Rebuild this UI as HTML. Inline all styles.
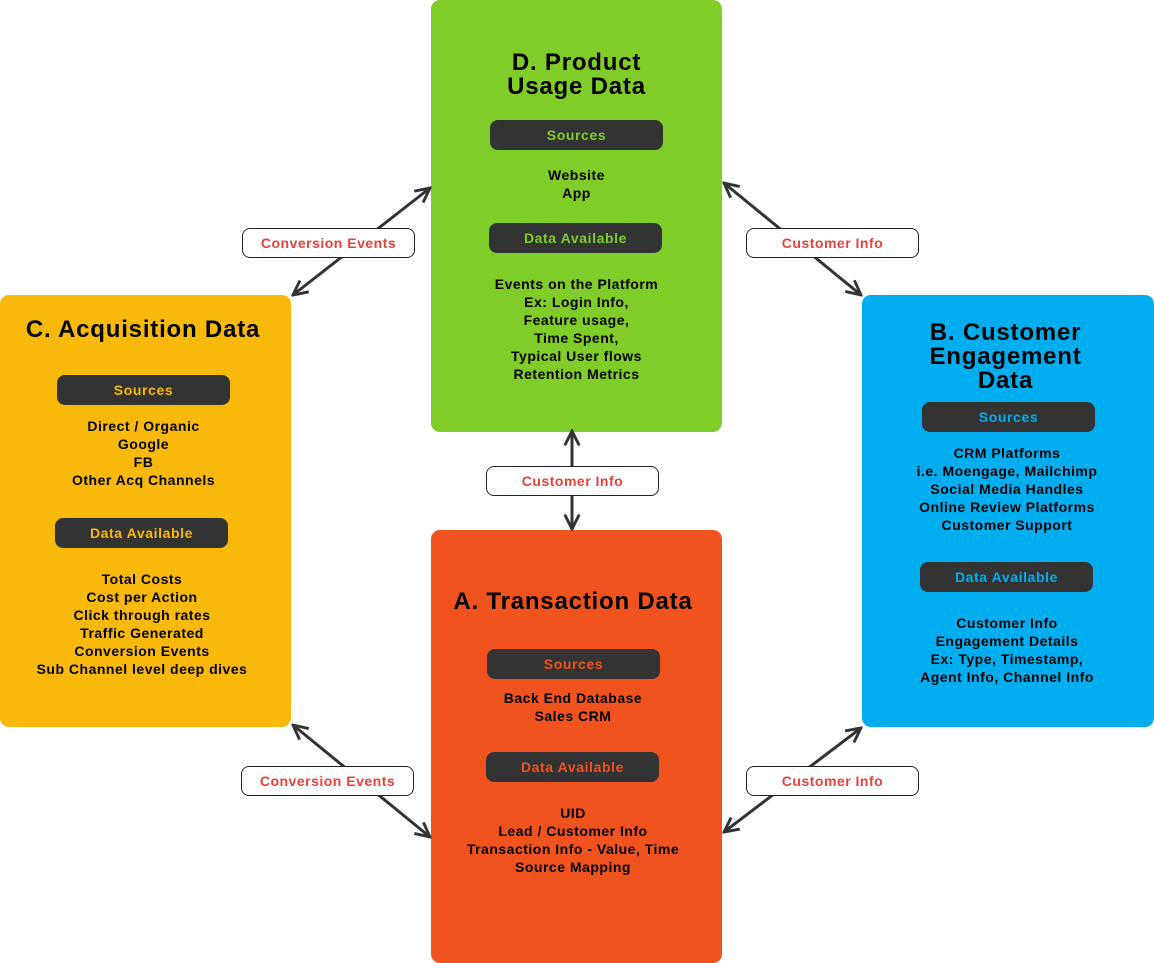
<!DOCTYPE html>
<html><head><meta charset="utf-8"><style>
body{margin:0;width:1154px;height:963px;background:#fff;position:relative;overflow:hidden;font-family:"Liberation Sans",sans-serif;font-weight:bold}
.box{position:absolute;border-radius:9px;width:291px;height:432px}
.t{position:absolute;left:0;right:0;text-align:center;color:#000}
.title{font-size:24px;line-height:24px;letter-spacing:0.8px}
.pill{position:absolute;background:#333;border-radius:8px;width:173px;height:30px;line-height:30px;text-align:center;font-size:14px;letter-spacing:0.6px}
.txt{font-size:14px;line-height:18px;letter-spacing:0.5px}
.lab{position:absolute;background:#fff;border:1px solid #222;border-radius:8px;width:171px;height:28px;line-height:28px;text-align:center;color:#e8413a;font-size:14px;letter-spacing:0.5px;z-index:3}
svg{position:absolute;left:0;top:0;z-index:2}
</style></head><body>
<div class="box" style="left:431px;top:0;background:#80cc29"></div>
<div class="box" style="left:0;top:295px;background:#f9b90a"></div>
<div class="box" style="left:862px;top:295px;background:#00aeef;width:292px"></div>
<div class="box" style="left:431px;top:530px;background:#f0531e;height:433px"></div>

<div class="t title" style="left:431px;width:291px;top:51px">D. Product<br>Usage Data</div>
<div class="pill" style="left:490px;top:120px;color:#80cc29">Sources</div>
<div class="t txt" style="left:431px;width:291px;top:166px">Website<br>App</div>
<div class="pill" style="left:489px;top:223px;color:#80cc29">Data Available</div>
<div class="t txt" style="left:431px;width:291px;top:275px">Events on the Platform<br>Ex: Login Info,<br>Feature usage,<br>Time Spent,<br>Typical User flows<br>Retention Metrics</div>

<div class="t title" style="left:0;width:286px;top:318px">C. Acquisition Data</div>
<div class="pill" style="left:57px;top:375px;color:#f9b90a">Sources</div>
<div class="t txt" style="left:0;width:287px;top:417px">Direct / Organic<br>Google<br>FB<br>Other Acq Channels</div>
<div class="pill" style="left:55px;top:518px;color:#f9b90a">Data Available</div>
<div class="t txt" style="left:0;width:284px;top:570px">Total Costs<br>Cost per Action<br>Click through rates<br>Traffic Generated<br>Conversion Events<br>Sub Channel level deep dives</div>

<div class="t title" style="left:862px;width:287px;top:321px">B. Customer<br>Engagement<br>Data</div>
<div class="pill" style="left:922px;top:402px;color:#00aeef">Sources</div>
<div class="t txt" style="left:862px;width:290px;top:444px">CRM Platforms<br>i.e. Moengage, Mailchimp<br>Social Media Handles<br>Online Review Platforms<br>Customer Support</div>
<div class="pill" style="left:920px;top:562px;color:#00aeef">Data Available</div>
<div class="t txt" style="left:862px;width:290px;top:614px">Customer Info<br>Engagement Details<br>Ex: Type, Timestamp,<br>Agent Info, Channel Info</div>

<div class="t title" style="left:431px;width:284px;top:590px">A. Transaction Data</div>
<div class="pill" style="left:487px;top:649px;color:#f0531e">Sources</div>
<div class="t txt" style="left:431px;width:284px;top:689px">Back End Database<br>Sales CRM</div>
<div class="pill" style="left:486px;top:752px;color:#f0531e">Data Available</div>
<div class="t txt" style="left:431px;width:284px;top:804px">UID<br>Lead / Customer Info<br>Transaction Info - Value, Time<br>Source Mapping</div>

<svg width="1154" height="963" viewBox="0 0 1154 963">
<defs><marker id="a" viewBox="0 0 10 10" refX="9" refY="5" markerWidth="6" markerHeight="6" orient="auto-start-reverse"><path d="M1,1 L9,5 L1,9" fill="none" stroke="#333" stroke-width="1.6"/></marker></defs>
<g stroke="#333" stroke-width="3" fill="none" marker-start="url(#a)" marker-end="url(#a)">
<line x1="293" y1="295" x2="430" y2="188"/>
<line x1="724" y1="183" x2="861" y2="295"/>
<line x1="572" y1="431" x2="572" y2="529"/>
<line x1="293" y1="725" x2="430" y2="837"/>
<line x1="724" y1="832" x2="861" y2="728"/>
</g></svg>

<div class="lab" style="left:242px;top:228px">Conversion Events</div>
<div class="lab" style="left:746px;top:228px">Customer Info</div>
<div class="lab" style="left:486px;top:466px">Customer Info</div>
<div class="lab" style="left:241px;top:766px">Conversion Events</div>
<div class="lab" style="left:746px;top:766px">Customer Info</div>
</body></html>
